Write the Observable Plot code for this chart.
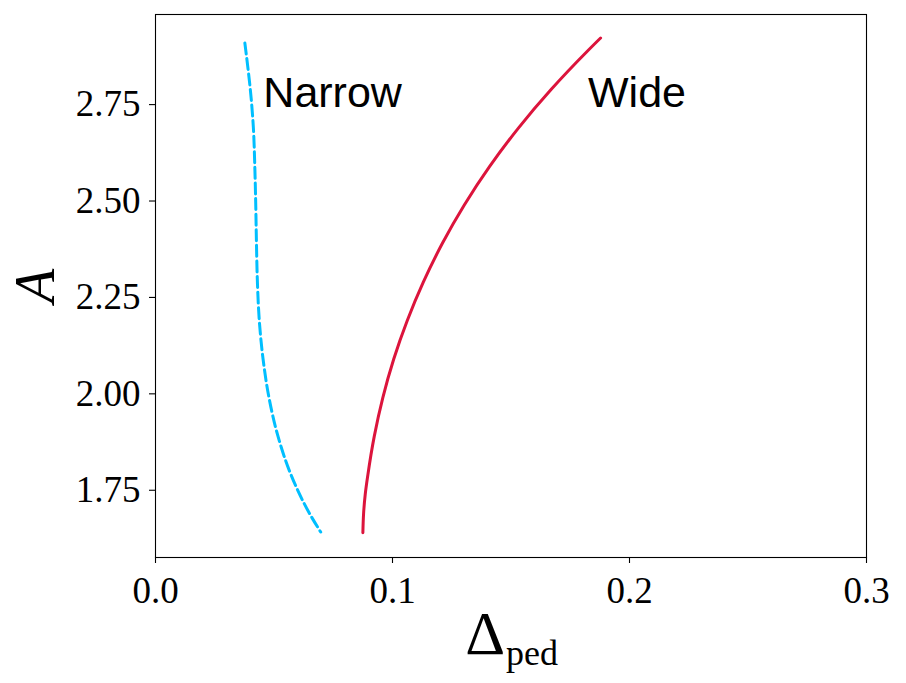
<!DOCTYPE html>
<html>
<head>
<meta charset="utf-8">
<script src="https://cdn.jsdelivr.net/npm/d3@7"></script>
<script src="https://cdn.jsdelivr.net/npm/@observablehq/plot@0.6"></script>
<style>
  html, body { margin: 0; padding: 0; background: #fff; }
</style>
</head>
<body>
<div id="chart"></div>
<script>
// Narrow pedestal branch (dashed)
const narrowA     = [2.920, 2.850, 2.800, 2.700, 2.600, 2.500, 2.400, 2.300, 2.200, 2.100, 2.000, 1.900, 1.800, 1.700, 1.652];
const narrowDelta = [0.0377, 0.0391, 0.0400, 0.0413, 0.0419, 0.0423, 0.0426, 0.0430, 0.0438, 0.0454, 0.0479, 0.0517, 0.0572, 0.0650, 0.0697];

// Wide pedestal branch (solid)
const wideA     = [1.650, 1.700, 1.750, 1.800, 1.900, 2.000, 2.100, 2.200, 2.300, 2.400, 2.500, 2.600, 2.700, 2.800, 2.900, 2.933];
const wideDelta = [0.0875, 0.0878, 0.0885, 0.0896, 0.0923, 0.0959, 0.1005, 0.1062, 0.1130, 0.1210, 0.1303, 0.1410, 0.1532, 0.1670, 0.1824, 0.1878];

const xTicks = [0.0, 0.1, 0.2, 0.3];
const yTicks = [1.75, 2.00, 2.25, 2.50, 2.75];

const labels = [
  {text: "Narrow", x: 0.0455, y: 2.755},
  {text: "Wide",   x: 0.1825, y: 2.755}
];

const narrow = narrowDelta.map((d, i) => ({x: d, y: narrowA[i]}));
const wide = wideDelta.map((d, i) => ({x: d, y: wideA[i]}));

const serif = "'Liberation Serif', 'Times New Roman', serif";

const chart = Plot.plot({
  width: 906,
  height: 683,
  marginLeft: 155,
  marginRight: 40,
  marginTop: 14,
  marginBottom: 126,
  style: {fontFamily: serif, background: "white", color: "black"},
  x: {domain: [0, 0.3]},
  y: {domain: [1.586, 2.994]},
  marks: [
    Plot.frame({stroke: "black", strokeWidth: 1.1}),
    Plot.axisX({ticks: xTicks, tickFormat: d3.format(".1f"), tickSize: 6, tickPadding: 13, fontSize: 37, label: null, strokeWidth: 1.1}),
    Plot.axisY({ticks: yTicks, tickFormat: d3.format(".2f"), tickSize: 6, tickPadding: 9, fontSize: 37, dy: -4, label: null, strokeWidth: 1.1}),
    Plot.line(narrow, {x: "x", y: "y", stroke: "#00BFFF", strokeWidth: 3, strokeDasharray: "11,4.6", curve: "monotone-y"}),
    Plot.line(wide, {x: "x", y: "y", stroke: "#DC143C", strokeWidth: 3, curve: "monotone-y"}),
    Plot.text(labels, {x: "x", y: "y", text: "text", textAnchor: "start", lineAnchor: "bottom", fontSize: 43, fontFamily: "'Liberation Sans', Arial, sans-serif", fill: "black"}),
    Plot.text(["A"], {frameAnchor: "left", dx: -102, rotate: -90, textAnchor: "middle", lineAnchor: "bottom", fontSize: 56, fontStyle: "italic", fill: "black"}),
    Plot.text(["Δ"], {frameAnchor: "bottom", dx: -6, dy: 96, textAnchor: "end", lineAnchor: "bottom", fontSize: 62, fill: "black"}),
    Plot.text(["ped"], {frameAnchor: "bottom", dx: -5, dy: 107, textAnchor: "start", lineAnchor: "bottom", fontSize: 36, fill: "black"})
  ]
});

document.getElementById("chart").appendChild(chart);
</script>
</body>
</html>
